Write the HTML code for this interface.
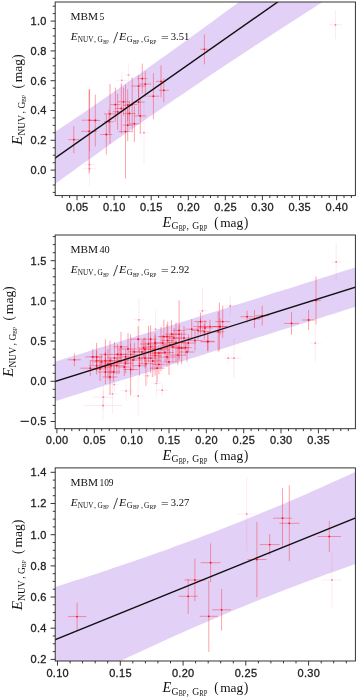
<!DOCTYPE html><html><head><meta charset="utf-8"><style>
html,body{margin:0;padding:0;background:#fff}
#c{will-change:transform;position:relative;width:357px;height:698px;overflow:hidden;background:#fff;font-family:"Liberation Sans",sans-serif}
svg{position:absolute;left:0;top:0}
.t{-webkit-text-stroke:0.3px #222;position:absolute;font-family:"Liberation Sans",sans-serif;font-size:11px;letter-spacing:.3px;color:#222;line-height:12px;height:12px;white-space:nowrap}
.yt{text-align:right;width:40px}
.xt{text-align:center;width:40px}
.s{position:absolute;font-family:"Liberation Serif",serif;color:#111;white-space:nowrap;line-height:1}
.s i{font-style:italic}
.sb{font-size:.62em;position:relative;top:.32em;letter-spacing:.2px}
.ss{font-size:.72em;position:relative;top:.3em;letter-spacing:0}
</style></head><body><div id="c">
<svg width="357" height="698" viewBox="0 0 357 698">
<clipPath id="cp0"><rect x="55.2" y="2.0" width="300.2" height="193.6"/></clipPath>
<g clip-path="url(#cp0)">
<polygon fill="#e3d0f7" points="53.2,133.2 60.8,128.1 68.4,123.0 76.0,117.8 83.6,112.7 91.2,107.5 98.8,102.2 106.4,97.0 114.0,91.7 121.6,86.4 129.2,81.1 136.9,75.8 144.5,70.4 152.1,65.0 159.7,59.6 167.3,54.2 174.9,48.7 182.5,43.3 190.1,37.8 197.7,32.2 205.3,26.7 212.9,21.2 220.5,15.6 228.1,10.0 235.7,4.4 243.3,-1.3 250.9,-6.9 258.5,-12.6 266.1,-18.3 273.7,-24.0 281.4,-29.7 289.0,-35.4 296.6,-41.2 304.2,-46.9 311.8,-52.7 319.4,-58.5 327.0,-64.3 334.6,-70.1 342.2,-75.9 349.8,-81.7 357.4,-87.6 357.4,-20.1 349.8,-15.3 342.2,-10.5 334.6,-5.6 327.0,-0.8 319.4,4.1 311.8,9.0 304.2,13.8 296.6,18.7 289.0,23.6 281.4,28.6 273.7,33.5 266.1,38.5 258.5,43.4 250.9,48.4 243.3,53.4 235.7,58.5 228.1,63.5 220.5,68.6 212.9,73.6 205.3,78.7 197.7,83.9 190.1,89.0 182.5,94.2 174.9,99.3 167.3,104.5 159.7,109.8 152.1,115.0 144.5,120.3 136.9,125.6 129.2,130.9 121.6,136.3 114.0,141.6 106.4,147.0 98.8,152.4 91.2,157.9 83.6,163.3 76.0,168.8 68.4,174.3 60.8,179.8 53.2,185.4"/>
<path d="M68.3 139.7H79.3M73.8 126.1V153.3" stroke="#ff2430" stroke-opacity="0.60" stroke-width="0.7" fill="none"/>
<path d="M81.1 131.3H97.1M89.1 89.3V173.3" stroke="#ff2430" stroke-opacity="0.60" stroke-width="0.7" fill="none"/>
<path d="M81.5 120.2H97.5M89.5 89.2V151.2" stroke="#ff2430" stroke-opacity="0.60" stroke-width="0.7" fill="none"/>
<path d="M90.3 120.5H100.3M95.3 94.5V146.5" stroke="#ff2430" stroke-opacity="0.60" stroke-width="0.7" fill="none"/>
<path d="M100.3 134.5H112.3M106.3 114.5V154.5" stroke="#ff2430" stroke-opacity="0.60" stroke-width="0.7" fill="none"/>
<path d="M104.1 121.7H114.1M109.1 109.7V133.7" stroke="#ff2430" stroke-opacity="0.60" stroke-width="0.7" fill="none"/>
<path d="M84.5 164.5H94.5M89.5 156.5V172.5" stroke="#ff2430" stroke-opacity="0.12" stroke-width="0.7" fill="none"/>
<path d="M82.5 168.7H96.5M89.5 150.7V186.7" stroke="#ff2430" stroke-opacity="0.12" stroke-width="0.7" fill="none"/>
<path d="M137.3 78.6H147.3M142.3 63.6V93.6" stroke="#ff2430" stroke-opacity="0.60" stroke-width="0.7" fill="none"/>
<path d="M139.3 84.1H151.3M145.3 71.1V97.1" stroke="#ff2430" stroke-opacity="0.60" stroke-width="0.7" fill="none"/>
<path d="M131.6 86.1H145.6M138.6 75.1V97.1" stroke="#ff2430" stroke-opacity="0.60" stroke-width="0.7" fill="none"/>
<path d="M156.0 81.4H166.0M161.0 65.4V97.4" stroke="#ff2430" stroke-opacity="0.60" stroke-width="0.7" fill="none"/>
<path d="M158.8 90.3H168.8M163.8 78.3V102.3" stroke="#ff2430" stroke-opacity="0.60" stroke-width="0.7" fill="none"/>
<path d="M147.4 96.2H159.4M153.4 73.2V119.2" stroke="#ff2430" stroke-opacity="0.60" stroke-width="0.7" fill="none"/>
<path d="M132.6 102.1H144.6M138.6 88.1V116.1" stroke="#ff2430" stroke-opacity="0.60" stroke-width="0.7" fill="none"/>
<path d="M117.5 101.8H129.5M123.5 87.8V115.8" stroke="#ff2430" stroke-opacity="0.60" stroke-width="0.7" fill="none"/>
<path d="M110.4 104.6H120.4M115.4 87.6V121.6" stroke="#ff2430" stroke-opacity="0.60" stroke-width="0.7" fill="none"/>
<path d="M122.7 105.1H132.7M127.7 89.1V121.1" stroke="#ff2430" stroke-opacity="0.60" stroke-width="0.7" fill="none"/>
<path d="M115.3 108.5H127.3M121.3 83.5V133.5" stroke="#ff2430" stroke-opacity="0.60" stroke-width="0.7" fill="none"/>
<path d="M112.6 111.8H122.6M117.6 93.8V129.8" stroke="#ff2430" stroke-opacity="0.60" stroke-width="0.7" fill="none"/>
<path d="M104.0 113.9H116.0M110.0 83.9V143.9" stroke="#ff2430" stroke-opacity="0.60" stroke-width="0.7" fill="none"/>
<path d="M123.4 113.5H135.4M129.4 101.5V125.5" stroke="#ff2430" stroke-opacity="0.60" stroke-width="0.7" fill="none"/>
<path d="M134.3 115.9H146.3M140.3 97.9V133.9" stroke="#ff2430" stroke-opacity="0.60" stroke-width="0.7" fill="none"/>
<path d="M122.7 125.2H132.7M127.7 109.2V141.2" stroke="#ff2430" stroke-opacity="0.60" stroke-width="0.7" fill="none"/>
<path d="M129.4 123.8H139.4M134.4 105.8V141.8" stroke="#ff2430" stroke-opacity="0.60" stroke-width="0.7" fill="none"/>
<path d="M118.5 131.6H132.5M125.5 84.6V178.6" stroke="#ff2430" stroke-opacity="0.60" stroke-width="0.7" fill="none"/>
<path d="M139.0 132.7H149.0M144.0 100.7V164.7" stroke="#ff2430" stroke-opacity="0.12" stroke-width="0.7" fill="none"/>
<path d="M200.4 49.3H208.4M204.4 34.3V64.3" stroke="#ff2430" stroke-opacity="0.60" stroke-width="0.7" fill="none"/>
<path d="M328.9 24.8H341.9M335.4 10.3V39.3" stroke="#ff2430" stroke-opacity="0.15" stroke-width="0.7" fill="none"/>
<path d="M115.8 80.3H127.8M121.8 71.3V89.3" stroke="#ff2430" stroke-opacity="0.12" stroke-width="0.7" fill="none"/>
<path d="M124.5 75.0H132.5M128.5 63.0V87.0" stroke="#ff2430" stroke-opacity="0.10" stroke-width="0.7" fill="none"/>
<path d="M127.2 104.5H137.2M132.2 77.5V131.5" stroke="#ff2430" stroke-opacity="0.60" stroke-width="0.7" fill="none"/>
<circle cx="73.8" cy="139.7" r="0.9" fill="#f01020" fill-opacity="1.00"/>
<circle cx="89.1" cy="131.3" r="0.9" fill="#f01020" fill-opacity="1.00"/>
<circle cx="89.5" cy="120.2" r="0.9" fill="#f01020" fill-opacity="1.00"/>
<circle cx="95.3" cy="120.5" r="0.9" fill="#f01020" fill-opacity="1.00"/>
<circle cx="106.3" cy="134.5" r="0.9" fill="#f01020" fill-opacity="1.00"/>
<circle cx="109.1" cy="121.7" r="0.9" fill="#f01020" fill-opacity="1.00"/>
<circle cx="89.5" cy="164.5" r="0.9" fill="#dc38c0" fill-opacity="0.50"/>
<circle cx="89.5" cy="168.7" r="0.9" fill="#dc38c0" fill-opacity="0.50"/>
<circle cx="142.3" cy="78.6" r="0.9" fill="#f01020" fill-opacity="1.00"/>
<circle cx="145.3" cy="84.1" r="0.9" fill="#f01020" fill-opacity="1.00"/>
<circle cx="138.6" cy="86.1" r="0.9" fill="#f01020" fill-opacity="1.00"/>
<circle cx="161.0" cy="81.4" r="0.9" fill="#f01020" fill-opacity="1.00"/>
<circle cx="163.8" cy="90.3" r="0.9" fill="#f01020" fill-opacity="1.00"/>
<circle cx="153.4" cy="96.2" r="0.9" fill="#f01020" fill-opacity="1.00"/>
<circle cx="138.6" cy="102.1" r="0.9" fill="#f01020" fill-opacity="1.00"/>
<circle cx="123.5" cy="101.8" r="0.9" fill="#f01020" fill-opacity="1.00"/>
<circle cx="115.4" cy="104.6" r="0.9" fill="#f01020" fill-opacity="1.00"/>
<circle cx="127.7" cy="105.1" r="0.9" fill="#f01020" fill-opacity="1.00"/>
<circle cx="121.3" cy="108.5" r="0.9" fill="#f01020" fill-opacity="1.00"/>
<circle cx="117.6" cy="111.8" r="0.9" fill="#f01020" fill-opacity="1.00"/>
<circle cx="110.0" cy="113.9" r="0.9" fill="#f01020" fill-opacity="1.00"/>
<circle cx="129.4" cy="113.5" r="0.9" fill="#f01020" fill-opacity="1.00"/>
<circle cx="140.3" cy="115.9" r="0.9" fill="#f01020" fill-opacity="1.00"/>
<circle cx="127.7" cy="125.2" r="0.9" fill="#f01020" fill-opacity="1.00"/>
<circle cx="134.4" cy="123.8" r="0.9" fill="#f01020" fill-opacity="1.00"/>
<circle cx="125.5" cy="131.6" r="0.9" fill="#f01020" fill-opacity="1.00"/>
<circle cx="144.0" cy="132.7" r="0.9" fill="#dc38c0" fill-opacity="0.50"/>
<circle cx="204.4" cy="49.3" r="0.9" fill="#f01020" fill-opacity="1.00"/>
<circle cx="335.4" cy="24.8" r="0.9" fill="#dc38c0" fill-opacity="0.60"/>
<circle cx="121.8" cy="80.3" r="0.9" fill="#dc38c0" fill-opacity="0.50"/>
<circle cx="128.5" cy="75.0" r="0.9" fill="#dc38c0" fill-opacity="0.40"/>
<circle cx="132.2" cy="104.5" r="0.9" fill="#f01020" fill-opacity="1.00"/>
<line x1="53.2" y1="159.3" x2="357.4" y2="-53.9" stroke="#111" stroke-width="1.4"/>
</g>
<path d="M62.2 195.6v2.4M69.6 195.6v2.4M77.0 195.6v4.6M84.4 195.6v2.4M91.8 195.6v2.4M99.3 195.6v2.4M106.7 195.6v2.4M114.1 195.6v4.6M121.5 195.6v2.4M128.9 195.6v2.4M136.3 195.6v2.4M143.8 195.6v2.4M151.2 195.6v4.6M158.6 195.6v2.4M166.0 195.6v2.4M173.4 195.6v2.4M180.8 195.6v2.4M188.3 195.6v4.6M195.7 195.6v2.4M203.1 195.6v2.4M210.5 195.6v2.4M217.9 195.6v2.4M225.3 195.6v4.6M232.8 195.6v2.4M240.2 195.6v2.4M247.6 195.6v2.4M255.0 195.6v2.4M262.4 195.6v4.6M269.8 195.6v2.4M277.3 195.6v2.4M284.7 195.6v2.4M292.1 195.6v2.4M299.5 195.6v4.6M306.9 195.6v2.4M314.3 195.6v2.4M321.8 195.6v2.4M329.2 195.6v2.4M336.6 195.6v4.6M344.0 195.6v2.4M351.4 195.6v2.4M55.2 192.4h-2.4M55.2 185.0h-2.4M55.2 177.5h-2.4M55.2 170.1h-4.6M55.2 162.7h-2.4M55.2 155.2h-2.4M55.2 147.8h-2.4M55.2 140.3h-4.6M55.2 132.8h-2.4M55.2 125.4h-2.4M55.2 117.9h-2.4M55.2 110.5h-4.6M55.2 103.0h-2.4M55.2 95.6h-2.4M55.2 88.1h-2.4M55.2 80.7h-4.6M55.2 73.2h-2.4M55.2 65.8h-2.4M55.2 58.3h-2.4M55.2 50.9h-4.6M55.2 43.4h-2.4M55.2 36.0h-2.4M55.2 28.5h-2.4M55.2 21.1h-4.6M55.2 13.6h-2.4M55.2 6.2h-2.4" stroke="#222" stroke-width="0.9" fill="none"/>
<rect x="55.2" y="2.0" width="300.2" height="193.6" fill="none" stroke="#2a2a2a" stroke-width="0.95"/>
<clipPath id="cp1"><rect x="55.2" y="235.0" width="300.2" height="193.7"/></clipPath>
<g clip-path="url(#cp1)">
<polygon fill="#e3d0f7" points="53.2,362.4 60.8,360.0 68.4,357.6 76.0,355.3 83.6,352.9 91.2,350.5 98.8,348.1 106.4,345.7 114.0,343.3 121.6,340.9 129.2,338.5 136.9,336.1 144.5,333.8 152.1,331.4 159.7,329.0 167.3,326.6 174.9,324.2 182.5,321.8 190.1,319.4 197.7,317.0 205.3,314.6 212.9,312.2 220.5,309.9 228.1,307.5 235.7,305.1 243.3,302.7 250.9,300.3 258.5,297.9 266.1,295.5 273.7,293.1 281.4,290.7 289.0,288.4 296.6,286.0 304.2,283.6 311.8,281.2 319.4,278.8 327.0,276.4 334.6,274.0 342.2,271.6 349.8,269.2 357.4,266.8 357.4,306.2 349.8,308.6 342.2,311.0 334.6,313.4 327.0,315.8 319.4,318.2 311.8,320.6 304.2,323.0 296.6,325.4 289.0,327.8 281.4,330.1 273.7,332.5 266.1,334.9 258.5,337.3 250.9,339.7 243.3,342.1 235.7,344.5 228.1,346.9 220.5,349.3 212.9,351.6 205.3,354.0 197.7,356.4 190.1,358.8 182.5,361.2 174.9,363.6 167.3,366.0 159.7,368.4 152.1,370.8 144.5,373.2 136.9,375.5 129.2,377.9 121.6,380.3 114.0,382.7 106.4,385.1 98.8,387.5 91.2,389.9 83.6,392.3 76.0,394.7 68.4,397.0 60.8,399.4 53.2,401.8"/>
<path d="M67.9 359.8H80.9M74.4 353.5V366.1" stroke="#ff2430" stroke-opacity="0.60" stroke-width="0.7" fill="none"/>
<path d="M80.3 368.2H100.3M90.3 360.2V376.2" stroke="#ff2430" stroke-opacity="0.60" stroke-width="0.7" fill="none"/>
<path d="M85.3 356.9H100.3M92.8 348.9V364.9" stroke="#ff2430" stroke-opacity="0.60" stroke-width="0.7" fill="none"/>
<path d="M90.3 356.9H102.8M96.6 342.9V370.9" stroke="#ff2430" stroke-opacity="0.60" stroke-width="0.7" fill="none"/>
<path d="M90.3 360.7H102.8M96.6 350.7V370.7" stroke="#ff2430" stroke-opacity="0.60" stroke-width="0.7" fill="none"/>
<path d="M89.1 365.7H104.1M96.6 356.7V374.7" stroke="#ff2430" stroke-opacity="0.60" stroke-width="0.7" fill="none"/>
<path d="M94.1 361.9H109.1M101.6 354.9V368.9" stroke="#ff2430" stroke-opacity="0.60" stroke-width="0.7" fill="none"/>
<path d="M99.2 354.4H111.7M105.4 339.4V369.4" stroke="#ff2430" stroke-opacity="0.60" stroke-width="0.7" fill="none"/>
<path d="M97.9 360.7H112.9M105.4 351.7V369.7" stroke="#ff2430" stroke-opacity="0.60" stroke-width="0.7" fill="none"/>
<path d="M99.2 367.0H111.7M105.4 357.0V377.0" stroke="#ff2430" stroke-opacity="0.60" stroke-width="0.7" fill="none"/>
<path d="M97.9 372.0H112.9M105.4 360.0V384.0" stroke="#ff2430" stroke-opacity="0.60" stroke-width="0.7" fill="none"/>
<path d="M103.8 360.7H116.2M110.0 340.7V380.7" stroke="#ff2430" stroke-opacity="0.60" stroke-width="0.7" fill="none"/>
<path d="M103.5 365.7H118.5M111.0 357.7V373.7" stroke="#ff2430" stroke-opacity="0.60" stroke-width="0.7" fill="none"/>
<path d="M102.5 377.0H117.5M110.0 359.0V395.0" stroke="#ff2430" stroke-opacity="0.60" stroke-width="0.7" fill="none"/>
<path d="M107.2 372.0H119.8M113.5 363.0V381.0" stroke="#ff2430" stroke-opacity="0.60" stroke-width="0.7" fill="none"/>
<path d="M109.3 365.7H124.3M116.8 356.7V374.7" stroke="#ff2430" stroke-opacity="0.60" stroke-width="0.7" fill="none"/>
<path d="M111.2 354.4H123.8M117.5 344.4V364.4" stroke="#ff2430" stroke-opacity="0.60" stroke-width="0.7" fill="none"/>
<path d="M113.5 346.8H128.5M121.0 331.8V361.8" stroke="#ff2430" stroke-opacity="0.60" stroke-width="0.7" fill="none"/>
<path d="M114.8 354.4H127.2M121.0 345.4V363.4" stroke="#ff2430" stroke-opacity="0.60" stroke-width="0.7" fill="none"/>
<path d="M119.3 356.9H131.8M125.6 348.9V364.9" stroke="#ff2430" stroke-opacity="0.60" stroke-width="0.7" fill="none"/>
<path d="M118.1 363.2H133.1M125.6 353.2V373.2" stroke="#ff2430" stroke-opacity="0.60" stroke-width="0.7" fill="none"/>
<path d="M118.0 367.0H130.6M124.3 358.0V376.0" stroke="#ff2430" stroke-opacity="0.60" stroke-width="0.7" fill="none"/>
<path d="M123.1 354.4H138.1M130.6 334.4V374.4" stroke="#ff2430" stroke-opacity="0.60" stroke-width="0.7" fill="none"/>
<path d="M123.1 369.5H138.1M130.6 343.5V395.5" stroke="#ff2430" stroke-opacity="0.60" stroke-width="0.7" fill="none"/>
<path d="M128.2 351.8H140.7M134.4 342.8V360.8" stroke="#ff2430" stroke-opacity="0.60" stroke-width="0.7" fill="none"/>
<path d="M130.7 339.2H145.7M138.2 326.2V352.2" stroke="#ff2430" stroke-opacity="0.60" stroke-width="0.7" fill="none"/>
<path d="M133.2 358.1H145.7M139.4 349.1V367.1" stroke="#ff2430" stroke-opacity="0.60" stroke-width="0.7" fill="none"/>
<path d="M131.9 365.7H146.9M139.4 355.7V375.7" stroke="#ff2430" stroke-opacity="0.60" stroke-width="0.7" fill="none"/>
<path d="M137.4 348.0H149.9M143.7 338.0V358.0" stroke="#ff2430" stroke-opacity="0.60" stroke-width="0.7" fill="none"/>
<path d="M138.8 349.3H151.2M145.0 337.3V361.3" stroke="#ff2430" stroke-opacity="0.60" stroke-width="0.7" fill="none"/>
<path d="M137.5 358.1H152.5M145.0 348.1V368.1" stroke="#ff2430" stroke-opacity="0.60" stroke-width="0.7" fill="none"/>
<path d="M144.3 339.2H156.8M150.6 325.2V353.2" stroke="#ff2430" stroke-opacity="0.60" stroke-width="0.7" fill="none"/>
<path d="M143.1 346.8H158.1M150.6 337.8V355.8" stroke="#ff2430" stroke-opacity="0.60" stroke-width="0.7" fill="none"/>
<path d="M144.3 358.1H156.8M150.6 343.1V373.1" stroke="#ff2430" stroke-opacity="0.60" stroke-width="0.7" fill="none"/>
<path d="M147.6 343.0H162.6M155.1 333.0V353.0" stroke="#ff2430" stroke-opacity="0.60" stroke-width="0.7" fill="none"/>
<path d="M148.8 349.3H161.3M155.1 340.3V358.3" stroke="#ff2430" stroke-opacity="0.60" stroke-width="0.7" fill="none"/>
<path d="M147.6 353.1H162.6M155.1 341.1V365.1" stroke="#ff2430" stroke-opacity="0.60" stroke-width="0.7" fill="none"/>
<path d="M148.8 355.6H161.3M155.1 335.6V375.6" stroke="#ff2430" stroke-opacity="0.60" stroke-width="0.7" fill="none"/>
<path d="M152.7 353.1H165.2M158.9 345.1V361.1" stroke="#ff2430" stroke-opacity="0.60" stroke-width="0.7" fill="none"/>
<path d="M149.6 368.2H164.6M157.1 354.2V382.2" stroke="#ff2430" stroke-opacity="0.60" stroke-width="0.7" fill="none"/>
<path d="M152.7 364.4H165.2M158.9 354.4V374.4" stroke="#ff2430" stroke-opacity="0.60" stroke-width="0.7" fill="none"/>
<path d="M157.7 336.7H170.2M163.9 319.7V353.7" stroke="#ff2430" stroke-opacity="0.60" stroke-width="0.7" fill="none"/>
<path d="M155.2 343.0H170.2M162.7 335.0V351.0" stroke="#ff2430" stroke-opacity="0.60" stroke-width="0.7" fill="none"/>
<path d="M161.4 340.5H173.9M167.7 321.5V359.5" stroke="#ff2430" stroke-opacity="0.60" stroke-width="0.7" fill="none"/>
<path d="M162.2 345.0H177.2M169.7 335.0V355.0" stroke="#ff2430" stroke-opacity="0.60" stroke-width="0.7" fill="none"/>
<path d="M162.8 361.9H175.2M169.0 348.9V374.9" stroke="#ff2430" stroke-opacity="0.60" stroke-width="0.7" fill="none"/>
<path d="M165.2 334.2H177.8M171.5 320.2V348.2" stroke="#ff2430" stroke-opacity="0.60" stroke-width="0.7" fill="none"/>
<path d="M166.5 338.0H181.5M174.0 328.0V348.0" stroke="#ff2430" stroke-opacity="0.60" stroke-width="0.7" fill="none"/>
<path d="M172.8 330.4H185.3M179.1 300.4V360.4" stroke="#ff2430" stroke-opacity="0.60" stroke-width="0.7" fill="none"/>
<path d="M171.6 334.2H186.6M179.1 325.2V343.2" stroke="#ff2430" stroke-opacity="0.60" stroke-width="0.7" fill="none"/>
<path d="M172.8 348.0H185.3M179.1 338.0V358.0" stroke="#ff2430" stroke-opacity="0.60" stroke-width="0.7" fill="none"/>
<path d="M170.3 355.1H185.3M177.8 345.1V365.1" stroke="#ff2430" stroke-opacity="0.60" stroke-width="0.7" fill="none"/>
<path d="M175.3 348.0H187.8M181.6 332.0V364.0" stroke="#ff2430" stroke-opacity="0.60" stroke-width="0.7" fill="none"/>
<path d="M179.2 347.6H191.7M185.4 339.6V355.6" stroke="#ff2430" stroke-opacity="0.60" stroke-width="0.7" fill="none"/>
<path d="M180.9 343.0H195.9M188.4 334.0V352.0" stroke="#ff2430" stroke-opacity="0.60" stroke-width="0.7" fill="none"/>
<path d="M185.4 329.2H197.9M191.7 319.2V339.2" stroke="#ff2430" stroke-opacity="0.60" stroke-width="0.7" fill="none"/>
<path d="M187.5 340.5H202.5M195.0 330.5V350.5" stroke="#ff2430" stroke-opacity="0.60" stroke-width="0.7" fill="none"/>
<path d="M191.8 330.4H204.2M198.0 321.4V339.4" stroke="#ff2430" stroke-opacity="0.60" stroke-width="0.7" fill="none"/>
<path d="M194.2 321.6H206.8M200.5 312.6V330.6" stroke="#ff2430" stroke-opacity="0.60" stroke-width="0.7" fill="none"/>
<path d="M193.0 326.6H208.0M200.5 318.6V334.6" stroke="#ff2430" stroke-opacity="0.60" stroke-width="0.7" fill="none"/>
<path d="M198.1 331.7H210.6M204.3 323.7V339.7" stroke="#ff2430" stroke-opacity="0.60" stroke-width="0.7" fill="none"/>
<path d="M197.5 327.9H212.5M205.0 319.9V335.9" stroke="#ff2430" stroke-opacity="0.60" stroke-width="0.7" fill="none"/>
<path d="M201.8 341.3H214.2M208.0 331.3V351.3" stroke="#ff2430" stroke-opacity="0.60" stroke-width="0.7" fill="none"/>
<path d="M202.5 326.6H217.5M210.0 319.6V333.6" stroke="#ff2430" stroke-opacity="0.60" stroke-width="0.7" fill="none"/>
<path d="M211.9 326.6H226.9M219.4 302.6V350.6" stroke="#ff2430" stroke-opacity="0.60" stroke-width="0.7" fill="none"/>
<path d="M215.2 321.6H230.2M222.7 305.6V337.6" stroke="#ff2430" stroke-opacity="0.60" stroke-width="0.7" fill="none"/>
<path d="M211.9 331.8H224.4M218.2 311.8V351.8" stroke="#ff2430" stroke-opacity="0.60" stroke-width="0.7" fill="none"/>
<path d="M212.7 326.7H227.7M220.2 318.7V334.7" stroke="#ff2430" stroke-opacity="0.60" stroke-width="0.7" fill="none"/>
<path d="M200.1 341.8H215.1M207.6 332.8V350.8" stroke="#ff2430" stroke-opacity="0.60" stroke-width="0.7" fill="none"/>
<path d="M240.4 316.7H253.8M247.1 310.7V322.7" stroke="#ff2430" stroke-opacity="0.60" stroke-width="0.7" fill="none"/>
<path d="M248.5 319.0H260.5M254.5 310.0V328.0" stroke="#ff2430" stroke-opacity="0.60" stroke-width="0.7" fill="none"/>
<path d="M255.2 315.7H269.2M262.2 305.7V325.7" stroke="#ff2430" stroke-opacity="0.60" stroke-width="0.7" fill="none"/>
<path d="M284.0 323.4H299.0M291.5 312.0V334.8" stroke="#ff2430" stroke-opacity="0.60" stroke-width="0.7" fill="none"/>
<path d="M302.1 320.0H315.1M308.6 310.0V330.0" stroke="#ff2430" stroke-opacity="0.60" stroke-width="0.7" fill="none"/>
<path d="M311.0 300.5H321.0M316.0 276.5V324.5" stroke="#ff2430" stroke-opacity="0.60" stroke-width="0.7" fill="none"/>
<path d="M138.4 363.7H153.4M145.9 341.7V385.7" stroke="#ff2430" stroke-opacity="0.60" stroke-width="0.7" fill="none"/>
<path d="M159.4 336.5H174.4M166.9 324.5V348.5" stroke="#ff2430" stroke-opacity="0.60" stroke-width="0.7" fill="none"/>
<path d="M158.2 357.0H175.7M166.9 347.0V367.0" stroke="#ff2430" stroke-opacity="0.60" stroke-width="0.7" fill="none"/>
<path d="M133.2 352.0H150.8M142.0 340.0V364.0" stroke="#ff2430" stroke-opacity="0.60" stroke-width="0.7" fill="none"/>
<path d="M139.8 344.0H157.2M148.5 326.0V362.0" stroke="#ff2430" stroke-opacity="0.60" stroke-width="0.7" fill="none"/>
<path d="M144.1 361.0H161.6M152.8 345.0V377.0" stroke="#ff2430" stroke-opacity="0.60" stroke-width="0.7" fill="none"/>
<path d="M152.2 349.0H169.8M161.0 327.0V371.0" stroke="#ff2430" stroke-opacity="0.60" stroke-width="0.7" fill="none"/>
<path d="M156.2 352.5H173.8M165.0 343.5V361.5" stroke="#ff2430" stroke-opacity="0.60" stroke-width="0.7" fill="none"/>
<path d="M164.1 347.0H181.6M172.8 333.0V361.0" stroke="#ff2430" stroke-opacity="0.60" stroke-width="0.7" fill="none"/>
<path d="M167.2 342.5H184.8M176.0 322.5V362.5" stroke="#ff2430" stroke-opacity="0.60" stroke-width="0.7" fill="none"/>
<path d="M175.2 338.0H192.8M184.0 326.0V350.0" stroke="#ff2430" stroke-opacity="0.60" stroke-width="0.7" fill="none"/>
<path d="M179.5 352.0H194.5M187.0 342.0V362.0" stroke="#ff2430" stroke-opacity="0.60" stroke-width="0.7" fill="none"/>
<path d="M124.2 360.0H141.8M133.0 349.0V371.0" stroke="#ff2430" stroke-opacity="0.60" stroke-width="0.7" fill="none"/>
<path d="M119.2 349.0H136.8M128.0 333.0V365.0" stroke="#ff2430" stroke-opacity="0.60" stroke-width="0.7" fill="none"/>
<path d="M110.2 361.0H127.8M119.0 348.0V374.0" stroke="#ff2430" stroke-opacity="0.60" stroke-width="0.7" fill="none"/>
<path d="M107.0 358.0H122.0M114.5 342.0V374.0" stroke="#ff2430" stroke-opacity="0.60" stroke-width="0.7" fill="none"/>
<path d="M92.5 369.0H107.5M100.0 357.0V381.0" stroke="#ff2430" stroke-opacity="0.60" stroke-width="0.7" fill="none"/>
<path d="M99.2 364.0H116.8M108.0 349.0V379.0" stroke="#ff2430" stroke-opacity="0.60" stroke-width="0.7" fill="none"/>
<path d="M331.2 261.9H341.2M336.2 242.9V280.9" stroke="#ff2430" stroke-opacity="0.15" stroke-width="0.7" fill="none"/>
<path d="M309.8 343.2H320.8M315.3 324.2V362.2" stroke="#ff2430" stroke-opacity="0.12" stroke-width="0.7" fill="none"/>
<path d="M133.9 319.8H143.9M138.9 297.8V341.8" stroke="#ff2430" stroke-opacity="0.15" stroke-width="0.7" fill="none"/>
<path d="M110.2 384.6H118.2M114.2 376.6V392.6" stroke="#ff2430" stroke-opacity="0.12" stroke-width="0.7" fill="none"/>
<path d="M120.1 390.9H132.1M126.1 380.9V400.9" stroke="#ff2430" stroke-opacity="0.12" stroke-width="0.7" fill="none"/>
<path d="M107.5 393.9H117.5M112.5 373.9V413.9" stroke="#ff2430" stroke-opacity="0.12" stroke-width="0.7" fill="none"/>
<path d="M93.4 397.2H113.4M103.4 385.2V409.2" stroke="#ff2430" stroke-opacity="0.15" stroke-width="0.7" fill="none"/>
<path d="M83.9 405.5H121.9M102.9 390.5V420.5" stroke="#ff2430" stroke-opacity="0.15" stroke-width="0.7" fill="none"/>
<path d="M132.2 396.0H144.2M138.2 376.0V416.0" stroke="#ff2430" stroke-opacity="0.12" stroke-width="0.7" fill="none"/>
<path d="M197.5 310.8H207.5M202.5 287.8V333.8" stroke="#ff2430" stroke-opacity="0.15" stroke-width="0.7" fill="none"/>
<path d="M150.6 329.2H160.6M155.6 309.2V349.2" stroke="#ff2430" stroke-opacity="0.12" stroke-width="0.7" fill="none"/>
<path d="M151.4 383.4H161.4M156.4 369.4V397.4" stroke="#ff2430" stroke-opacity="0.12" stroke-width="0.7" fill="none"/>
<path d="M156.2 390.2H168.2M162.2 384.2V396.2" stroke="#ff2430" stroke-opacity="0.15" stroke-width="0.7" fill="none"/>
<path d="M142.6 375.8H152.6M147.6 367.8V383.8" stroke="#ff2430" stroke-opacity="0.12" stroke-width="0.7" fill="none"/>
<path d="M223.2 358.1H233.2M228.2 353.1V363.1" stroke="#ff2430" stroke-opacity="0.12" stroke-width="0.7" fill="none"/>
<path d="M225.2 306.0H235.2M230.2 296.0V316.0" stroke="#ff2430" stroke-opacity="0.15" stroke-width="0.7" fill="none"/>
<path d="M227.0 358.2H241.0M234.0 338.2V378.2" stroke="#ff2430" stroke-opacity="0.15" stroke-width="0.7" fill="none"/>
<circle cx="74.4" cy="359.8" r="0.9" fill="#f01020" fill-opacity="1.00"/>
<circle cx="90.3" cy="368.2" r="0.9" fill="#f01020" fill-opacity="1.00"/>
<circle cx="92.8" cy="356.9" r="0.9" fill="#f01020" fill-opacity="1.00"/>
<circle cx="96.6" cy="356.9" r="0.9" fill="#f01020" fill-opacity="1.00"/>
<circle cx="96.6" cy="360.7" r="0.9" fill="#f01020" fill-opacity="1.00"/>
<circle cx="96.6" cy="365.7" r="0.9" fill="#f01020" fill-opacity="1.00"/>
<circle cx="101.6" cy="361.9" r="0.9" fill="#f01020" fill-opacity="1.00"/>
<circle cx="105.4" cy="354.4" r="0.9" fill="#f01020" fill-opacity="1.00"/>
<circle cx="105.4" cy="360.7" r="0.9" fill="#f01020" fill-opacity="1.00"/>
<circle cx="105.4" cy="367.0" r="0.9" fill="#f01020" fill-opacity="1.00"/>
<circle cx="105.4" cy="372.0" r="0.9" fill="#f01020" fill-opacity="1.00"/>
<circle cx="110.0" cy="360.7" r="0.9" fill="#f01020" fill-opacity="1.00"/>
<circle cx="111.0" cy="365.7" r="0.9" fill="#f01020" fill-opacity="1.00"/>
<circle cx="110.0" cy="377.0" r="0.9" fill="#f01020" fill-opacity="1.00"/>
<circle cx="113.5" cy="372.0" r="0.9" fill="#f01020" fill-opacity="1.00"/>
<circle cx="116.8" cy="365.7" r="0.9" fill="#f01020" fill-opacity="1.00"/>
<circle cx="117.5" cy="354.4" r="0.9" fill="#f01020" fill-opacity="1.00"/>
<circle cx="121.0" cy="346.8" r="0.9" fill="#f01020" fill-opacity="1.00"/>
<circle cx="121.0" cy="354.4" r="0.9" fill="#f01020" fill-opacity="1.00"/>
<circle cx="125.6" cy="356.9" r="0.9" fill="#f01020" fill-opacity="1.00"/>
<circle cx="125.6" cy="363.2" r="0.9" fill="#f01020" fill-opacity="1.00"/>
<circle cx="124.3" cy="367.0" r="0.9" fill="#f01020" fill-opacity="1.00"/>
<circle cx="130.6" cy="354.4" r="0.9" fill="#f01020" fill-opacity="1.00"/>
<circle cx="130.6" cy="369.5" r="0.9" fill="#f01020" fill-opacity="1.00"/>
<circle cx="134.4" cy="351.8" r="0.9" fill="#f01020" fill-opacity="1.00"/>
<circle cx="138.2" cy="339.2" r="0.9" fill="#f01020" fill-opacity="1.00"/>
<circle cx="139.4" cy="358.1" r="0.9" fill="#f01020" fill-opacity="1.00"/>
<circle cx="139.4" cy="365.7" r="0.9" fill="#f01020" fill-opacity="1.00"/>
<circle cx="143.7" cy="348.0" r="0.9" fill="#f01020" fill-opacity="1.00"/>
<circle cx="145.0" cy="349.3" r="0.9" fill="#f01020" fill-opacity="1.00"/>
<circle cx="145.0" cy="358.1" r="0.9" fill="#f01020" fill-opacity="1.00"/>
<circle cx="150.6" cy="339.2" r="0.9" fill="#f01020" fill-opacity="1.00"/>
<circle cx="150.6" cy="346.8" r="0.9" fill="#f01020" fill-opacity="1.00"/>
<circle cx="150.6" cy="358.1" r="0.9" fill="#f01020" fill-opacity="1.00"/>
<circle cx="155.1" cy="343.0" r="0.9" fill="#f01020" fill-opacity="1.00"/>
<circle cx="155.1" cy="349.3" r="0.9" fill="#f01020" fill-opacity="1.00"/>
<circle cx="155.1" cy="353.1" r="0.9" fill="#f01020" fill-opacity="1.00"/>
<circle cx="155.1" cy="355.6" r="0.9" fill="#f01020" fill-opacity="1.00"/>
<circle cx="158.9" cy="353.1" r="0.9" fill="#f01020" fill-opacity="1.00"/>
<circle cx="157.1" cy="368.2" r="0.9" fill="#f01020" fill-opacity="1.00"/>
<circle cx="158.9" cy="364.4" r="0.9" fill="#f01020" fill-opacity="1.00"/>
<circle cx="163.9" cy="336.7" r="0.9" fill="#f01020" fill-opacity="1.00"/>
<circle cx="162.7" cy="343.0" r="0.9" fill="#f01020" fill-opacity="1.00"/>
<circle cx="167.7" cy="340.5" r="0.9" fill="#f01020" fill-opacity="1.00"/>
<circle cx="169.7" cy="345.0" r="0.9" fill="#f01020" fill-opacity="1.00"/>
<circle cx="169.0" cy="361.9" r="0.9" fill="#f01020" fill-opacity="1.00"/>
<circle cx="171.5" cy="334.2" r="0.9" fill="#f01020" fill-opacity="1.00"/>
<circle cx="174.0" cy="338.0" r="0.9" fill="#f01020" fill-opacity="1.00"/>
<circle cx="179.1" cy="330.4" r="0.9" fill="#f01020" fill-opacity="1.00"/>
<circle cx="179.1" cy="334.2" r="0.9" fill="#f01020" fill-opacity="1.00"/>
<circle cx="179.1" cy="348.0" r="0.9" fill="#f01020" fill-opacity="1.00"/>
<circle cx="177.8" cy="355.1" r="0.9" fill="#f01020" fill-opacity="1.00"/>
<circle cx="181.6" cy="348.0" r="0.9" fill="#f01020" fill-opacity="1.00"/>
<circle cx="185.4" cy="347.6" r="0.9" fill="#f01020" fill-opacity="1.00"/>
<circle cx="188.4" cy="343.0" r="0.9" fill="#f01020" fill-opacity="1.00"/>
<circle cx="191.7" cy="329.2" r="0.9" fill="#f01020" fill-opacity="1.00"/>
<circle cx="195.0" cy="340.5" r="0.9" fill="#f01020" fill-opacity="1.00"/>
<circle cx="198.0" cy="330.4" r="0.9" fill="#f01020" fill-opacity="1.00"/>
<circle cx="200.5" cy="321.6" r="0.9" fill="#f01020" fill-opacity="1.00"/>
<circle cx="200.5" cy="326.6" r="0.9" fill="#f01020" fill-opacity="1.00"/>
<circle cx="204.3" cy="331.7" r="0.9" fill="#f01020" fill-opacity="1.00"/>
<circle cx="205.0" cy="327.9" r="0.9" fill="#f01020" fill-opacity="1.00"/>
<circle cx="208.0" cy="341.3" r="0.9" fill="#f01020" fill-opacity="1.00"/>
<circle cx="210.0" cy="326.6" r="0.9" fill="#f01020" fill-opacity="1.00"/>
<circle cx="219.4" cy="326.6" r="0.9" fill="#f01020" fill-opacity="1.00"/>
<circle cx="222.7" cy="321.6" r="0.9" fill="#f01020" fill-opacity="1.00"/>
<circle cx="218.2" cy="331.8" r="0.9" fill="#f01020" fill-opacity="1.00"/>
<circle cx="220.2" cy="326.7" r="0.9" fill="#f01020" fill-opacity="1.00"/>
<circle cx="207.6" cy="341.8" r="0.9" fill="#f01020" fill-opacity="1.00"/>
<circle cx="247.1" cy="316.7" r="0.9" fill="#f01020" fill-opacity="1.00"/>
<circle cx="254.5" cy="319.0" r="0.9" fill="#f01020" fill-opacity="1.00"/>
<circle cx="262.2" cy="315.7" r="0.9" fill="#f01020" fill-opacity="1.00"/>
<circle cx="291.5" cy="323.4" r="0.9" fill="#f01020" fill-opacity="1.00"/>
<circle cx="308.6" cy="320.0" r="0.9" fill="#f01020" fill-opacity="1.00"/>
<circle cx="316.0" cy="300.5" r="0.9" fill="#f01020" fill-opacity="1.00"/>
<circle cx="145.9" cy="363.7" r="0.9" fill="#f01020" fill-opacity="1.00"/>
<circle cx="166.9" cy="336.5" r="0.9" fill="#f01020" fill-opacity="1.00"/>
<circle cx="166.9" cy="357.0" r="0.9" fill="#f01020" fill-opacity="1.00"/>
<circle cx="142.0" cy="352.0" r="0.9" fill="#f01020" fill-opacity="1.00"/>
<circle cx="148.5" cy="344.0" r="0.9" fill="#f01020" fill-opacity="1.00"/>
<circle cx="152.8" cy="361.0" r="0.9" fill="#f01020" fill-opacity="1.00"/>
<circle cx="161.0" cy="349.0" r="0.9" fill="#f01020" fill-opacity="1.00"/>
<circle cx="165.0" cy="352.5" r="0.9" fill="#f01020" fill-opacity="1.00"/>
<circle cx="172.8" cy="347.0" r="0.9" fill="#f01020" fill-opacity="1.00"/>
<circle cx="176.0" cy="342.5" r="0.9" fill="#f01020" fill-opacity="1.00"/>
<circle cx="184.0" cy="338.0" r="0.9" fill="#f01020" fill-opacity="1.00"/>
<circle cx="187.0" cy="352.0" r="0.9" fill="#f01020" fill-opacity="1.00"/>
<circle cx="133.0" cy="360.0" r="0.9" fill="#f01020" fill-opacity="1.00"/>
<circle cx="128.0" cy="349.0" r="0.9" fill="#f01020" fill-opacity="1.00"/>
<circle cx="119.0" cy="361.0" r="0.9" fill="#f01020" fill-opacity="1.00"/>
<circle cx="114.5" cy="358.0" r="0.9" fill="#f01020" fill-opacity="1.00"/>
<circle cx="100.0" cy="369.0" r="0.9" fill="#f01020" fill-opacity="1.00"/>
<circle cx="108.0" cy="364.0" r="0.9" fill="#f01020" fill-opacity="1.00"/>
<circle cx="336.2" cy="261.9" r="0.9" fill="#dc38c0" fill-opacity="0.60"/>
<circle cx="315.3" cy="343.2" r="0.9" fill="#dc38c0" fill-opacity="0.50"/>
<circle cx="138.9" cy="319.8" r="0.9" fill="#dc38c0" fill-opacity="0.60"/>
<circle cx="114.2" cy="384.6" r="0.9" fill="#dc38c0" fill-opacity="0.50"/>
<circle cx="126.1" cy="390.9" r="0.9" fill="#dc38c0" fill-opacity="0.50"/>
<circle cx="112.5" cy="393.9" r="0.9" fill="#dc38c0" fill-opacity="0.50"/>
<circle cx="103.4" cy="397.2" r="0.9" fill="#dc38c0" fill-opacity="0.60"/>
<circle cx="102.9" cy="405.5" r="0.9" fill="#dc38c0" fill-opacity="0.60"/>
<circle cx="138.2" cy="396.0" r="0.9" fill="#dc38c0" fill-opacity="0.50"/>
<circle cx="202.5" cy="310.8" r="0.9" fill="#dc38c0" fill-opacity="0.60"/>
<circle cx="155.6" cy="329.2" r="0.9" fill="#dc38c0" fill-opacity="0.50"/>
<circle cx="156.4" cy="383.4" r="0.9" fill="#dc38c0" fill-opacity="0.50"/>
<circle cx="162.2" cy="390.2" r="0.9" fill="#dc38c0" fill-opacity="0.60"/>
<circle cx="147.6" cy="375.8" r="0.9" fill="#dc38c0" fill-opacity="0.50"/>
<circle cx="228.2" cy="358.1" r="0.9" fill="#dc38c0" fill-opacity="0.50"/>
<circle cx="230.2" cy="306.0" r="0.9" fill="#dc38c0" fill-opacity="0.60"/>
<circle cx="234.0" cy="358.2" r="0.9" fill="#dc38c0" fill-opacity="0.60"/>
<line x1="53.2" y1="382.1" x2="357.4" y2="286.5" stroke="#111" stroke-width="1.4"/>
</g>
<path d="M56.9 428.7v4.6M64.4 428.7v2.4M71.8 428.7v2.4M79.3 428.7v2.4M86.8 428.7v2.4M94.3 428.7v4.6M101.7 428.7v2.4M109.2 428.7v2.4M116.7 428.7v2.4M124.1 428.7v2.4M131.6 428.7v4.6M139.1 428.7v2.4M146.6 428.7v2.4M154.0 428.7v2.4M161.5 428.7v2.4M169.0 428.7v4.6M176.4 428.7v2.4M183.9 428.7v2.4M191.4 428.7v2.4M198.8 428.7v2.4M206.3 428.7v4.6M213.8 428.7v2.4M221.3 428.7v2.4M228.7 428.7v2.4M236.2 428.7v2.4M243.7 428.7v4.6M251.1 428.7v2.4M258.6 428.7v2.4M266.1 428.7v2.4M273.6 428.7v2.4M281.0 428.7v4.6M288.5 428.7v2.4M296.0 428.7v2.4M303.4 428.7v2.4M310.9 428.7v2.4M318.4 428.7v4.6M325.9 428.7v2.4M333.3 428.7v2.4M340.8 428.7v2.4M348.3 428.7v2.4M55.2 421.5h-4.6M55.2 413.5h-2.4M55.2 405.4h-2.4M55.2 397.4h-2.4M55.2 389.3h-2.4M55.2 381.3h-4.6M55.2 373.3h-2.4M55.2 365.2h-2.4M55.2 357.2h-2.4M55.2 349.1h-2.4M55.2 341.1h-4.6M55.2 333.1h-2.4M55.2 325.0h-2.4M55.2 317.0h-2.4M55.2 308.9h-2.4M55.2 300.9h-4.6M55.2 292.9h-2.4M55.2 284.8h-2.4M55.2 276.8h-2.4M55.2 268.7h-2.4M55.2 260.7h-4.6M55.2 252.7h-2.4M55.2 244.6h-2.4M55.2 236.6h-2.4" stroke="#222" stroke-width="0.9" fill="none"/>
<rect x="55.2" y="235.0" width="300.2" height="193.7" fill="none" stroke="#2a2a2a" stroke-width="0.95"/>
<clipPath id="cp2"><rect x="55.2" y="467.9" width="300.2" height="193.10000000000002"/></clipPath>
<g clip-path="url(#cp2)">
<polygon fill="#e3d0f7" points="53.2,587.5 60.8,585.2 68.4,582.7 76.0,580.3 83.6,577.9 91.2,575.4 98.8,572.9 106.4,570.4 114.0,567.8 121.6,565.3 129.2,562.7 136.9,560.1 144.5,557.4 152.1,554.8 159.7,552.1 167.3,549.4 174.9,546.6 182.5,543.8 190.1,541.0 197.7,538.2 205.3,535.3 212.9,532.4 220.5,529.4 228.1,526.5 235.7,523.4 243.3,520.4 250.9,517.3 258.5,514.2 266.1,511.1 273.7,507.9 281.4,504.7 289.0,501.5 296.6,498.2 304.2,494.9 311.8,491.5 319.4,488.2 327.0,484.8 334.6,481.3 342.2,477.9 349.8,474.4 357.4,470.9 357.4,563.3 349.8,566.0 342.2,568.7 334.6,571.4 327.0,574.1 319.4,576.9 311.8,579.7 304.2,582.6 296.6,585.4 289.0,588.3 281.4,591.3 273.7,594.2 266.1,597.2 258.5,600.3 250.9,603.3 243.3,606.4 235.7,609.6 228.1,612.7 220.5,615.9 212.9,619.2 205.3,622.4 197.7,625.7 190.1,629.1 182.5,632.4 174.9,635.8 167.3,639.2 159.7,642.7 152.1,646.2 144.5,649.7 136.9,653.2 129.2,656.8 121.6,660.4 114.0,664.0 106.4,667.6 98.8,671.3 91.2,675.0 83.6,678.7 76.0,682.4 68.4,686.1 60.8,689.9 53.2,693.7"/>
<path d="M67.8 616.6H86.4M77.1 602.6V630.6" stroke="#ff2430" stroke-opacity="0.60" stroke-width="0.7" fill="none"/>
<path d="M178.6 596.3H197.8M188.2 578.8V613.8" stroke="#ff2430" stroke-opacity="0.60" stroke-width="0.7" fill="none"/>
<path d="M184.3 580.0H205.5M194.9 558.7V601.3" stroke="#ff2430" stroke-opacity="0.60" stroke-width="0.7" fill="none"/>
<path d="M200.6 562.7H220.6M210.6 543.4V582.0" stroke="#ff2430" stroke-opacity="0.60" stroke-width="0.7" fill="none"/>
<path d="M199.7 616.3H217.9M208.8 580.7V651.9" stroke="#ff2430" stroke-opacity="0.60" stroke-width="0.7" fill="none"/>
<path d="M212.1 609.8H231.1M221.6 589.0V630.6" stroke="#ff2430" stroke-opacity="0.60" stroke-width="0.7" fill="none"/>
<path d="M247.4 559.5H266.4M256.9 521.8V597.2" stroke="#ff2430" stroke-opacity="0.60" stroke-width="0.7" fill="none"/>
<path d="M259.7 544.6H279.7M269.7 534.0V555.2" stroke="#ff2430" stroke-opacity="0.60" stroke-width="0.7" fill="none"/>
<path d="M273.0 518.2H292.0M282.5 488.2V548.2" stroke="#ff2430" stroke-opacity="0.60" stroke-width="0.7" fill="none"/>
<path d="M279.3 523.3H299.3M289.3 485.3V561.3" stroke="#ff2430" stroke-opacity="0.60" stroke-width="0.7" fill="none"/>
<path d="M317.6 536.5H341.0M329.3 521.0V552.0" stroke="#ff2430" stroke-opacity="0.60" stroke-width="0.7" fill="none"/>
<path d="M237.2 514.0H256.2M246.7 477.0V551.0" stroke="#ff2430" stroke-opacity="0.12" stroke-width="0.7" fill="none"/>
<path d="M322.4 580.0H341.4M331.9 552.3V607.7" stroke="#ff2430" stroke-opacity="0.14" stroke-width="0.7" fill="none"/>
<circle cx="77.1" cy="616.6" r="0.9" fill="#f01020" fill-opacity="1.00"/>
<circle cx="188.2" cy="596.3" r="0.9" fill="#f01020" fill-opacity="1.00"/>
<circle cx="194.9" cy="580.0" r="0.9" fill="#f01020" fill-opacity="1.00"/>
<circle cx="210.6" cy="562.7" r="0.9" fill="#f01020" fill-opacity="1.00"/>
<circle cx="208.8" cy="616.3" r="0.9" fill="#f01020" fill-opacity="1.00"/>
<circle cx="221.6" cy="609.8" r="0.9" fill="#f01020" fill-opacity="1.00"/>
<circle cx="256.9" cy="559.5" r="0.9" fill="#f01020" fill-opacity="1.00"/>
<circle cx="269.7" cy="544.6" r="0.9" fill="#f01020" fill-opacity="1.00"/>
<circle cx="282.5" cy="518.2" r="0.9" fill="#f01020" fill-opacity="1.00"/>
<circle cx="289.3" cy="523.3" r="0.9" fill="#f01020" fill-opacity="1.00"/>
<circle cx="329.3" cy="536.5" r="0.9" fill="#f01020" fill-opacity="1.00"/>
<circle cx="246.7" cy="514.0" r="0.9" fill="#dc38c0" fill-opacity="0.50"/>
<circle cx="331.9" cy="580.0" r="0.9" fill="#dc38c0" fill-opacity="0.56"/>
<line x1="53.2" y1="640.6" x2="357.4" y2="517.1" stroke="#111" stroke-width="1.4"/>
</g>
<path d="M57.5 661.0v4.6M70.1 661.0v2.4M82.6 661.0v2.4M95.2 661.0v2.4M107.7 661.0v2.4M120.3 661.0v4.6M132.8 661.0v2.4M145.4 661.0v2.4M157.9 661.0v2.4M170.5 661.0v2.4M183.1 661.0v4.6M195.6 661.0v2.4M208.2 661.0v2.4M220.7 661.0v2.4M233.3 661.0v2.4M245.8 661.0v4.6M258.4 661.0v2.4M270.9 661.0v2.4M283.5 661.0v2.4M296.0 661.0v2.4M308.6 661.0v4.6M321.2 661.0v2.4M333.7 661.0v2.4M346.3 661.0v2.4M55.2 659.4h-4.6M55.2 651.6h-2.4M55.2 643.8h-2.4M55.2 636.0h-2.4M55.2 628.2h-4.6M55.2 620.4h-2.4M55.2 612.6h-2.4M55.2 604.8h-2.4M55.2 597.0h-4.6M55.2 589.2h-2.4M55.2 581.4h-2.4M55.2 573.7h-2.4M55.2 565.9h-4.6M55.2 558.1h-2.4M55.2 550.3h-2.4M55.2 542.5h-2.4M55.2 534.7h-4.6M55.2 526.9h-2.4M55.2 519.1h-2.4M55.2 511.3h-2.4M55.2 503.5h-4.6M55.2 495.7h-2.4M55.2 487.9h-2.4M55.2 480.1h-2.4M55.2 472.3h-4.6" stroke="#222" stroke-width="0.9" fill="none"/>
<rect x="55.2" y="467.9" width="300.2" height="193.10000000000002" fill="none" stroke="#2a2a2a" stroke-width="0.95"/>
<g font-family="Liberation Serif, serif" fill="#111"><text x="70.5" y="19.6" textLength="27.6" lengthAdjust="spacingAndGlyphs" font-size="10.7">MBM</text><text x="99.4" y="19.6" textLength="4.8" lengthAdjust="spacingAndGlyphs" font-size="10.7">5</text><text x="70.7" y="39.6" font-style="italic" textLength="6.9" lengthAdjust="spacingAndGlyphs" font-size="10.6">E</text><text x="77.8" y="41.7" textLength="15.6" lengthAdjust="spacingAndGlyphs" font-size="8.1">NUV</text><text x="94.0" y="41.7" font-size="8.1">,</text><text x="97.5" y="41.7" textLength="5.3" lengthAdjust="spacingAndGlyphs" font-size="8.1">G</text><text x="103.3" y="43.5" textLength="5.4" lengthAdjust="spacingAndGlyphs" font-size="5.8">BP</text><line x1="113.6" y1="43.2" x2="117.6" y2="32.0" stroke="#111" stroke-width="0.8"/><text x="118.9" y="39.6" font-style="italic" textLength="7.4" lengthAdjust="spacingAndGlyphs" font-size="10.6">E</text><text x="126.7" y="41.7" textLength="5.8" lengthAdjust="spacingAndGlyphs" font-size="8.1">G</text><text x="132.9" y="43.5" textLength="6.3" lengthAdjust="spacingAndGlyphs" font-size="5.8">BP</text><text x="140.9" y="41.7" font-size="8.1">,</text><text x="144.0" y="41.7" textLength="5.3" lengthAdjust="spacingAndGlyphs" font-size="8.1">G</text><text x="149.5" y="43.5" textLength="7.0" lengthAdjust="spacingAndGlyphs" font-size="5.8">RP</text><text x="161.0" y="41.3" textLength="7.6" lengthAdjust="spacingAndGlyphs" font-size="10.5">=</text><text x="170.7" y="39.6" textLength="18.6" lengthAdjust="spacingAndGlyphs" font-size="10.5">3.51</text><text x="162.5" y="226.8" font-style="italic" textLength="8.8" lengthAdjust="spacingAndGlyphs" font-size="14.0">E</text><text x="171.6" y="229.2" textLength="7.0" lengthAdjust="spacingAndGlyphs" font-size="9.6">G</text><text x="178.7" y="230.8" textLength="7.5" lengthAdjust="spacingAndGlyphs" font-size="7.2">BP</text><text x="186.6" y="229.2" font-size="9.6">,</text><text x="192.3" y="229.2" textLength="7.0" lengthAdjust="spacingAndGlyphs" font-size="9.6">G</text><text x="199.3" y="230.8" textLength="8.1" lengthAdjust="spacingAndGlyphs" font-size="7.2">RP</text><text x="214.2" y="226.8" textLength="4.3" lengthAdjust="spacingAndGlyphs" font-size="15.5">(</text><text x="220.2" y="226.5" textLength="23.0" lengthAdjust="spacingAndGlyphs" font-size="13">mag</text><text x="244.0" y="226.8" textLength="4.3" lengthAdjust="spacingAndGlyphs" font-size="15.5">)</text><text transform="translate(22.2 145.0) rotate(-90)" font-style="italic" textLength="9.3" lengthAdjust="spacingAndGlyphs" font-size="13.6">E</text><text transform="translate(24.5 135.6) rotate(-90)" textLength="20.6" lengthAdjust="spacingAndGlyphs" font-size="10.0">NUV</text><text transform="translate(24.2 113.4) rotate(-90)" font-size="10.0">,</text><text transform="translate(24.5 108.6) rotate(-90)" textLength="6.8" lengthAdjust="spacingAndGlyphs" font-size="10.0">G</text><text transform="translate(26.1 102.0) rotate(-90)" textLength="7.0" lengthAdjust="spacingAndGlyphs" font-size="6.6">BP</text><text transform="translate(21.8 88.6) rotate(-90)" textLength="4.3" lengthAdjust="spacingAndGlyphs" font-size="15.5">(</text><text transform="translate(22.0 82.3) rotate(-90)" textLength="23.5" lengthAdjust="spacingAndGlyphs" font-size="13">mag</text><text transform="translate(21.8 58.7) rotate(-90)" textLength="4.3" lengthAdjust="spacingAndGlyphs" font-size="15.5">)</text><text x="70.5" y="252.6" textLength="27.6" lengthAdjust="spacingAndGlyphs" font-size="10.7">MBM</text><text x="99.4" y="252.6" textLength="10.3" lengthAdjust="spacingAndGlyphs" font-size="10.7">40</text><text x="70.7" y="272.6" font-style="italic" textLength="6.9" lengthAdjust="spacingAndGlyphs" font-size="10.6">E</text><text x="77.8" y="274.7" textLength="15.6" lengthAdjust="spacingAndGlyphs" font-size="8.1">NUV</text><text x="94.0" y="274.7" font-size="8.1">,</text><text x="97.5" y="274.7" textLength="5.3" lengthAdjust="spacingAndGlyphs" font-size="8.1">G</text><text x="103.3" y="276.5" textLength="5.4" lengthAdjust="spacingAndGlyphs" font-size="5.8">BP</text><line x1="113.6" y1="276.2" x2="117.6" y2="265.0" stroke="#111" stroke-width="0.8"/><text x="118.9" y="272.6" font-style="italic" textLength="7.4" lengthAdjust="spacingAndGlyphs" font-size="10.6">E</text><text x="126.7" y="274.7" textLength="5.8" lengthAdjust="spacingAndGlyphs" font-size="8.1">G</text><text x="132.9" y="276.5" textLength="6.3" lengthAdjust="spacingAndGlyphs" font-size="5.8">BP</text><text x="140.9" y="274.7" font-size="8.1">,</text><text x="144.0" y="274.7" textLength="5.3" lengthAdjust="spacingAndGlyphs" font-size="8.1">G</text><text x="149.5" y="276.5" textLength="7.0" lengthAdjust="spacingAndGlyphs" font-size="5.8">RP</text><text x="161.0" y="274.3" textLength="7.6" lengthAdjust="spacingAndGlyphs" font-size="10.5">=</text><text x="170.7" y="272.6" textLength="18.6" lengthAdjust="spacingAndGlyphs" font-size="10.5">2.92</text><text x="162.5" y="459.9" font-style="italic" textLength="8.8" lengthAdjust="spacingAndGlyphs" font-size="14.0">E</text><text x="171.6" y="462.3" textLength="7.0" lengthAdjust="spacingAndGlyphs" font-size="9.6">G</text><text x="178.7" y="463.9" textLength="7.5" lengthAdjust="spacingAndGlyphs" font-size="7.2">BP</text><text x="186.6" y="462.3" font-size="9.6">,</text><text x="192.3" y="462.3" textLength="7.0" lengthAdjust="spacingAndGlyphs" font-size="9.6">G</text><text x="199.3" y="463.9" textLength="8.1" lengthAdjust="spacingAndGlyphs" font-size="7.2">RP</text><text x="214.2" y="459.9" textLength="4.3" lengthAdjust="spacingAndGlyphs" font-size="15.5">(</text><text x="220.2" y="459.6" textLength="23.0" lengthAdjust="spacingAndGlyphs" font-size="13">mag</text><text x="244.0" y="459.9" textLength="4.3" lengthAdjust="spacingAndGlyphs" font-size="15.5">)</text><text transform="translate(13.2 377.0) rotate(-90)" font-style="italic" textLength="9.3" lengthAdjust="spacingAndGlyphs" font-size="13.6">E</text><text transform="translate(15.5 367.6) rotate(-90)" textLength="20.6" lengthAdjust="spacingAndGlyphs" font-size="10.0">NUV</text><text transform="translate(15.2 345.4) rotate(-90)" font-size="10.0">,</text><text transform="translate(15.5 340.6) rotate(-90)" textLength="6.8" lengthAdjust="spacingAndGlyphs" font-size="10.0">G</text><text transform="translate(17.1 334.0) rotate(-90)" textLength="7.0" lengthAdjust="spacingAndGlyphs" font-size="6.6">BP</text><text transform="translate(12.8 320.6) rotate(-90)" textLength="4.3" lengthAdjust="spacingAndGlyphs" font-size="15.5">(</text><text transform="translate(13.0 314.2) rotate(-90)" textLength="23.5" lengthAdjust="spacingAndGlyphs" font-size="13">mag</text><text transform="translate(12.8 290.7) rotate(-90)" textLength="4.3" lengthAdjust="spacingAndGlyphs" font-size="15.5">)</text><text x="70.5" y="485.5" textLength="27.6" lengthAdjust="spacingAndGlyphs" font-size="10.7">MBM</text><text x="99.4" y="485.5" textLength="14.2" lengthAdjust="spacingAndGlyphs" font-size="10.7">109</text><text x="70.7" y="505.5" font-style="italic" textLength="6.9" lengthAdjust="spacingAndGlyphs" font-size="10.6">E</text><text x="77.8" y="507.6" textLength="15.6" lengthAdjust="spacingAndGlyphs" font-size="8.1">NUV</text><text x="94.0" y="507.6" font-size="8.1">,</text><text x="97.5" y="507.6" textLength="5.3" lengthAdjust="spacingAndGlyphs" font-size="8.1">G</text><text x="103.3" y="509.4" textLength="5.4" lengthAdjust="spacingAndGlyphs" font-size="5.8">BP</text><line x1="113.6" y1="509.1" x2="117.6" y2="497.9" stroke="#111" stroke-width="0.8"/><text x="118.9" y="505.5" font-style="italic" textLength="7.4" lengthAdjust="spacingAndGlyphs" font-size="10.6">E</text><text x="126.7" y="507.6" textLength="5.8" lengthAdjust="spacingAndGlyphs" font-size="8.1">G</text><text x="132.9" y="509.4" textLength="6.3" lengthAdjust="spacingAndGlyphs" font-size="5.8">BP</text><text x="140.9" y="507.6" font-size="8.1">,</text><text x="144.0" y="507.6" textLength="5.3" lengthAdjust="spacingAndGlyphs" font-size="8.1">G</text><text x="149.5" y="509.4" textLength="7.0" lengthAdjust="spacingAndGlyphs" font-size="5.8">RP</text><text x="161.0" y="507.2" textLength="7.6" lengthAdjust="spacingAndGlyphs" font-size="10.5">=</text><text x="170.7" y="505.5" textLength="18.6" lengthAdjust="spacingAndGlyphs" font-size="10.5">3.27</text><text x="162.5" y="692.2" font-style="italic" textLength="8.8" lengthAdjust="spacingAndGlyphs" font-size="14.0">E</text><text x="171.6" y="694.6" textLength="7.0" lengthAdjust="spacingAndGlyphs" font-size="9.6">G</text><text x="178.7" y="696.2" textLength="7.5" lengthAdjust="spacingAndGlyphs" font-size="7.2">BP</text><text x="186.6" y="694.6" font-size="9.6">,</text><text x="192.3" y="694.6" textLength="7.0" lengthAdjust="spacingAndGlyphs" font-size="9.6">G</text><text x="199.3" y="696.2" textLength="8.1" lengthAdjust="spacingAndGlyphs" font-size="7.2">RP</text><text x="214.2" y="692.2" textLength="4.3" lengthAdjust="spacingAndGlyphs" font-size="15.5">(</text><text x="220.2" y="691.9" textLength="23.0" lengthAdjust="spacingAndGlyphs" font-size="13">mag</text><text x="244.0" y="692.2" textLength="4.3" lengthAdjust="spacingAndGlyphs" font-size="15.5">)</text><text transform="translate(22.2 610.2) rotate(-90)" font-style="italic" textLength="9.3" lengthAdjust="spacingAndGlyphs" font-size="13.6">E</text><text transform="translate(24.5 600.9) rotate(-90)" textLength="20.6" lengthAdjust="spacingAndGlyphs" font-size="10.0">NUV</text><text transform="translate(24.2 578.7) rotate(-90)" font-size="10.0">,</text><text transform="translate(24.5 573.9) rotate(-90)" textLength="6.8" lengthAdjust="spacingAndGlyphs" font-size="10.0">G</text><text transform="translate(26.1 567.2) rotate(-90)" textLength="7.0" lengthAdjust="spacingAndGlyphs" font-size="6.6">BP</text><text transform="translate(21.8 553.9) rotate(-90)" textLength="4.3" lengthAdjust="spacingAndGlyphs" font-size="15.5">(</text><text transform="translate(22.0 547.6) rotate(-90)" textLength="23.5" lengthAdjust="spacingAndGlyphs" font-size="13">mag</text><text transform="translate(21.8 524.0) rotate(-90)" textLength="4.3" lengthAdjust="spacingAndGlyphs" font-size="15.5">)</text></g>
</svg>
<div class="t xt" style="left:57.2px;top:201.2px">0.05</div>
<div class="t xt" style="left:94.3px;top:201.2px">0.10</div>
<div class="t xt" style="left:131.4px;top:201.2px">0.15</div>
<div class="t xt" style="left:168.5px;top:201.2px">0.20</div>
<div class="t xt" style="left:205.5px;top:201.2px">0.25</div>
<div class="t xt" style="left:242.6px;top:201.2px">0.30</div>
<div class="t xt" style="left:279.7px;top:201.2px">0.35</div>
<div class="t xt" style="left:316.8px;top:201.2px">0.40</div>
<div class="t yt" style="left:6.8px;top:163.9px">0.0</div>
<div class="t yt" style="left:6.8px;top:134.1px">0.2</div>
<div class="t yt" style="left:6.8px;top:104.3px">0.4</div>
<div class="t yt" style="left:6.8px;top:74.5px">0.6</div>
<div class="t yt" style="left:6.8px;top:44.7px">0.8</div>
<div class="t yt" style="left:6.8px;top:14.9px">1.0</div>
<div class="t xt" style="left:37.1px;top:434.3px">0.00</div>
<div class="t xt" style="left:74.5px;top:434.3px">0.05</div>
<div class="t xt" style="left:111.8px;top:434.3px">0.10</div>
<div class="t xt" style="left:149.2px;top:434.3px">0.15</div>
<div class="t xt" style="left:186.5px;top:434.3px">0.20</div>
<div class="t xt" style="left:223.9px;top:434.3px">0.25</div>
<div class="t xt" style="left:261.2px;top:434.3px">0.30</div>
<div class="t xt" style="left:298.6px;top:434.3px">0.35</div>
<div class="t yt" style="left:6.8px;top:415.3px"><span style="display:inline-block;transform:scaleX(1.45);transform-origin:right center;margin-right:.8px">−</span>0.5</div>
<div class="t yt" style="left:6.8px;top:375.1px">0.0</div>
<div class="t yt" style="left:6.8px;top:334.9px">0.5</div>
<div class="t yt" style="left:6.8px;top:294.7px">1.0</div>
<div class="t yt" style="left:6.8px;top:254.5px">1.5</div>
<div class="t xt" style="left:37.7px;top:666.6px">0.10</div>
<div class="t xt" style="left:100.5px;top:666.6px">0.15</div>
<div class="t xt" style="left:163.2px;top:666.6px">0.20</div>
<div class="t xt" style="left:226.0px;top:666.6px">0.25</div>
<div class="t xt" style="left:288.8px;top:666.6px">0.30</div>
<div class="t yt" style="left:6.8px;top:653.2px">0.2</div>
<div class="t yt" style="left:6.8px;top:622.0px">0.4</div>
<div class="t yt" style="left:6.8px;top:590.8px">0.6</div>
<div class="t yt" style="left:6.8px;top:559.7px">0.8</div>
<div class="t yt" style="left:6.8px;top:528.5px">1.0</div>
<div class="t yt" style="left:6.8px;top:497.3px">1.2</div>
<div class="t yt" style="left:6.8px;top:466.1px">1.4</div>
</div></body></html>
